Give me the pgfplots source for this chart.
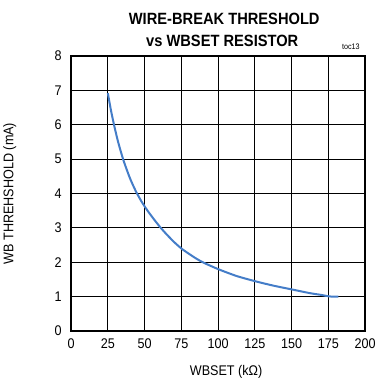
\documentclass[border=0pt]{standalone}
\usepackage{pgfplots}
\pgfplotsset{compat=1.18}
\usepackage{fontspec}
\setmainfont{Liberation Sans}[FakeStretch=0.9]
\definecolor{curveblue}{RGB}{68,125,200}
\begin{document}
\begin{tikzpicture}[x=1pt,y=1pt]
\path (0,0) rectangle (376,383);
\begin{axis}[
  at={(70.8pt,52pt)}, anchor=south west,
  width=294.2pt, height=275pt, scale only axis,
  xmin=0, xmax=200, ymin=0, ymax=8,
  xtick={0,25,...,200}, ytick={0,1,...,8},
  grid=major,
  major grid style={black, line width=1pt},
  axis line style={black, line width=1.6pt},
  tick style={draw=none},
  /pgf/number format/assume math mode=true,
  tick label style={font=\fontsize{14}{16}\selectfont},
  xticklabel style={yshift=-4pt},
  yticklabel style={xshift=-6pt},
  xlabel={WBSET (k\symbol{"03A9})},
  ylabel={WB THREHSHOLD (mA)},
  every axis x label/.style={at={(axis description cs:0.527,-0.147)},anchor=center,font=\fontsize{14}{16}\selectfont},
  every axis y label/.style={at={(axis description cs:-0.208,0.5)},rotate=90,anchor=center,font=\fontsize{14}{16}\selectfont},
  clip=false,
]
\addplot[curveblue, line width=2pt, smooth, tension=0.4] coordinates {
 (25,6.92) (27,6.45) (29.2,6.0) (32,5.5) (35.6,4.97) (40,4.45) (44,4.07)
 (48,3.76) (52,3.5) (56,3.27) (60.6,3.02) (65,2.81) (70,2.59) (75,2.4)
 (80,2.25) (85,2.11) (90,1.99) (100,1.8) (112.5,1.6) (125,1.45)
 (137.5,1.32) (150,1.21) (162.5,1.1) (170,1.05) (175,1.01) (178,1.0) (181.7,1.0)
};
\end{axis}
\node[anchor=base, font=\bfseries\fontsize{16.3}{18}\selectfont] at (224,358) {WIRE-BREAK THRESHOLD};
\node[anchor=base, font=\bfseries\fontsize{16.3}{18}\selectfont] at (222,336) {vs WBSET RESISTOR};
\node[anchor=base east, font=\fontsize{8}{9}\selectfont] at (363,333.5) {toc13};
\end{tikzpicture}
\end{document}
